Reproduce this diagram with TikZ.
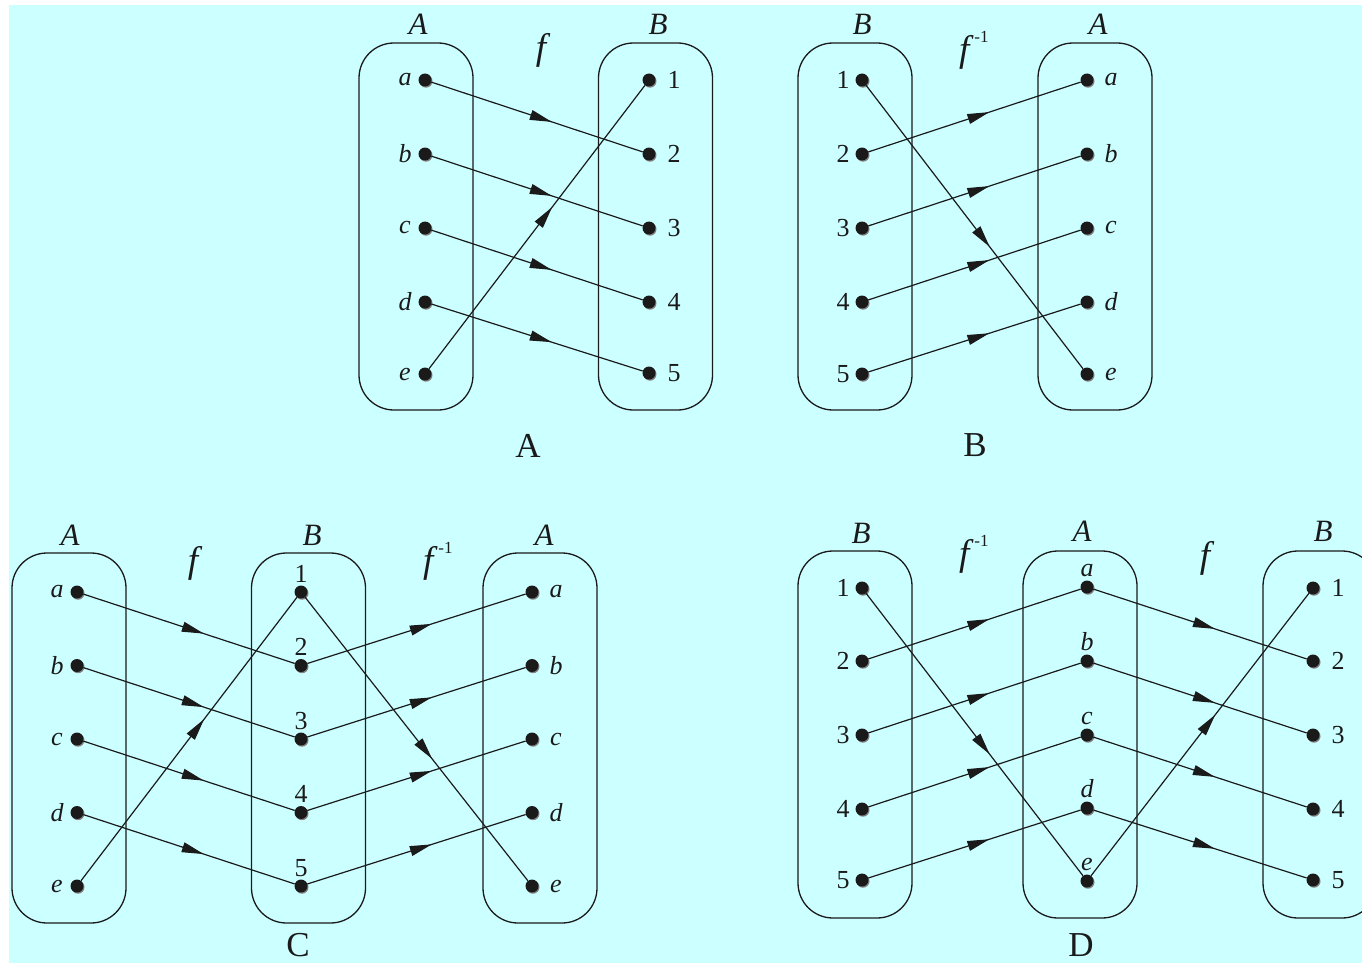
\documentclass[tikz,border=0pt]{standalone}
\usepackage{fontspec}
\setmainfont{Liberation Serif}
\usetikzlibrary{arrows.meta,decorations.markings,shadows}
\definecolor{bgcyan}{HTML}{CCFFFF}
\definecolor{ink}{HTML}{1A1A1A}
\begin{document}
\begin{tikzpicture}[x=1pt,y=-1pt,
  dot/.style={circle, fill=ink, inner sep=0pt, minimum size=13pt,
    general shadow={fill=gray, shadow xshift=1pt, shadow yshift=-1.2pt}},
  setbox/.style={draw=ink, line width=1.3pt, rounded corners=35pt, minimum width=114pt, inner sep=0pt},
  lbl/.style={font=\fontsize{26}{26}\selectfont\itshape, inner sep=0pt, text=ink},
  num/.style={font=\fontsize{26}{26}\selectfont, inner sep=0pt, text=ink},
  setname/.style={font=\fontsize{31}{31}\selectfont\itshape, inner sep=0pt, text=ink},
  fname/.style={font=\fontsize{37}{37}\selectfont\itshape, inner sep=0pt, text=ink},
  captxt/.style={font=\fontsize{35}{35}\selectfont, inner sep=0pt, text=ink},
  map/.style={draw=ink, line width=1.2pt, postaction={decorate},
    decoration={markings, mark=at position 0.57 with {\arrow{Triangle[length=22pt,width=10pt]}}}}
]
\newcommand{\finv}{\textit{f}\hspace{5pt}\raisebox{19pt}{\fontsize{17}{17}\selectfont\upshape -1}}
\useasboundingbox (0,0) rectangle (1362,963);
\clip (0,0) rectangle (1362,963);
\fill[white] (0,0) rectangle (1362,963);
\fill[bgcyan] (9,5) rectangle (1362,963);

% ---------------- Panel A ----------------
\node[setbox, minimum height=367pt] (PA-boxL) at (416,226.5) {};
\node[setbox, minimum height=367pt] (PA-boxR) at (655.5,226.5) {};
\node[setname] (PA-nA) at (418,24) {A};
\node[setname] (PA-nB) at (658,24) {B};
\node[fname, anchor=base] (PA-f) at (541,60) {f};
\node[captxt] (PA-cap) at (528,446) {A};
\foreach \n/\y in {a/80,b/154,c/228,d/302,e/374} {
  \node[dot] (PA-\n) at (425,\y) {};
  \node[lbl] (PA-l\n) at (405,\y) {\n};
}
\foreach \n/\y in {1/80,2/154,3/228,4/302,5/373} {
  \node[dot] (PA-\n) at (649,\y) {};
  \node[num] (PA-l\n) at (674,\y) {\n};
}
\foreach \s/\t in {a/2,b/3,c/4,d/5,e/1} \draw[map] (PA-\s) -- (PA-\t);

% ---------------- Panel B ----------------
\node[setbox, minimum height=367pt] (PB-boxL) at (855,226.5) {};
\node[setbox, minimum height=367pt] (PB-boxR) at (1095,226.5) {};
\node[setname] (PB-nB) at (862,24) {B};
\node[setname] (PB-nA) at (1098,24) {A};
\node[fname, anchor=base west] (PB-f) at (959,62) {\finv};
\node[captxt] (PB-cap) at (975,445) {B};
\foreach \n/\y in {1/80,2/154,3/228,4/302,5/374} {
  \node[dot] (PB-\n) at (862,\y) {};
  \node[num] (PB-l\n) at (843,\y) {\n};
}
\foreach \n/\y in {a/80,b/154,c/228,d/302,e/374} {
  \node[dot] (PB-\n) at (1087,\y) {};
  \node[lbl] (PB-l\n) at (1111,\y) {\n};
}
\foreach \s/\t in {1/e,2/a,3/b,4/c,5/d} \draw[map] (PB-\s) -- (PB-\t);

% ---------------- Panel C ----------------
\node[setbox, minimum height=370pt] (PC-boxL) at (69,738) {};
\node[setbox, minimum height=370pt] (PC-boxM) at (308.5,738) {};
\node[setbox, minimum height=370pt] (PC-boxR) at (540,738) {};
\node[setname] (PC-nA1) at (70,535) {A};
\node[setname] (PC-nB) at (312,535) {B};
\node[setname] (PC-nA2) at (544,535) {A};
\node[fname, anchor=base] (PC-f) at (193,572) {f};
\node[fname, anchor=base west] (PC-finv) at (423,572) {\finv};
\node[captxt] (PC-cap) at (298,945) {C};
\foreach \n/\y in {a/592,b/665.5,c/739,d/812.5,e/886} {
  \node[dot] (PC-L\n) at (77,\y) {};
  \node[lbl] (PC-ll\n) at (57,\y) {\n};
  \node[dot] (PC-R\n) at (532,\y) {};
  \node[lbl] (PC-lr\n) at (556,\y) {\n};
}
\foreach \n/\y in {1/592,2/665.5,3/739,4/812.5,5/886} {
  \node[dot] (PC-M\n) at (301,\y) {};
  \node[num, anchor=base] (PC-lm\n) at (301,\y-10) {\n};
}
\foreach \s/\t in {a/2,b/3,c/4,d/5,e/1} \draw[map] (PC-L\s) -- (PC-M\t);
\foreach \s/\t in {1/e,2/a,3/b,4/c,5/d} \draw[map] (PC-M\s) -- (PC-R\t);

% ---------------- Panel D ----------------
\node[setbox, minimum height=367pt] (PD-boxL) at (855,734.5) {};
\node[setbox, minimum height=367pt] (PD-boxM) at (1080,734.5) {};
\node[setbox, minimum height=367pt] (PD-boxR) at (1320,734.5) {};
\node[setname] (PD-nB1) at (861,533) {B};
\node[setname] (PD-nA) at (1082,531) {A};
\node[setname] (PD-nB2) at (1323,531) {B};
\node[fname, anchor=base west] (PD-finv) at (959,565) {\finv};
\node[fname, anchor=base] (PD-f) at (1205,567) {f};
\node[captxt] (PD-cap) at (1081,945) {D};
\foreach \n/\y in {1/588,2/661,3/735,4/809,5/880} {
  \node[dot] (PD-L\n) at (862,\y) {};
  \node[num] (PD-ll\n) at (843,\y) {\n};
  \node[dot] (PD-R\n) at (1313,\y) {};
  \node[num] (PD-lr\n) at (1338,\y) {\n};
}
\foreach \n/\y in {a/587,b/661,c/735,d/808,e/881} {
  \node[dot] (PD-M\n) at (1087,\y) {};
  \node[lbl, anchor=base] (PD-lm\n) at (1087,\y-11) {\n};
}
\foreach \s/\t in {1/e,2/a,3/b,4/c,5/d} \draw[map] (PD-L\s) -- (PD-M\t);
\foreach \s/\t in {a/2,b/3,c/4,d/5,e/1} \draw[map] (PD-M\s) -- (PD-R\t);
\end{tikzpicture}
\end{document}
